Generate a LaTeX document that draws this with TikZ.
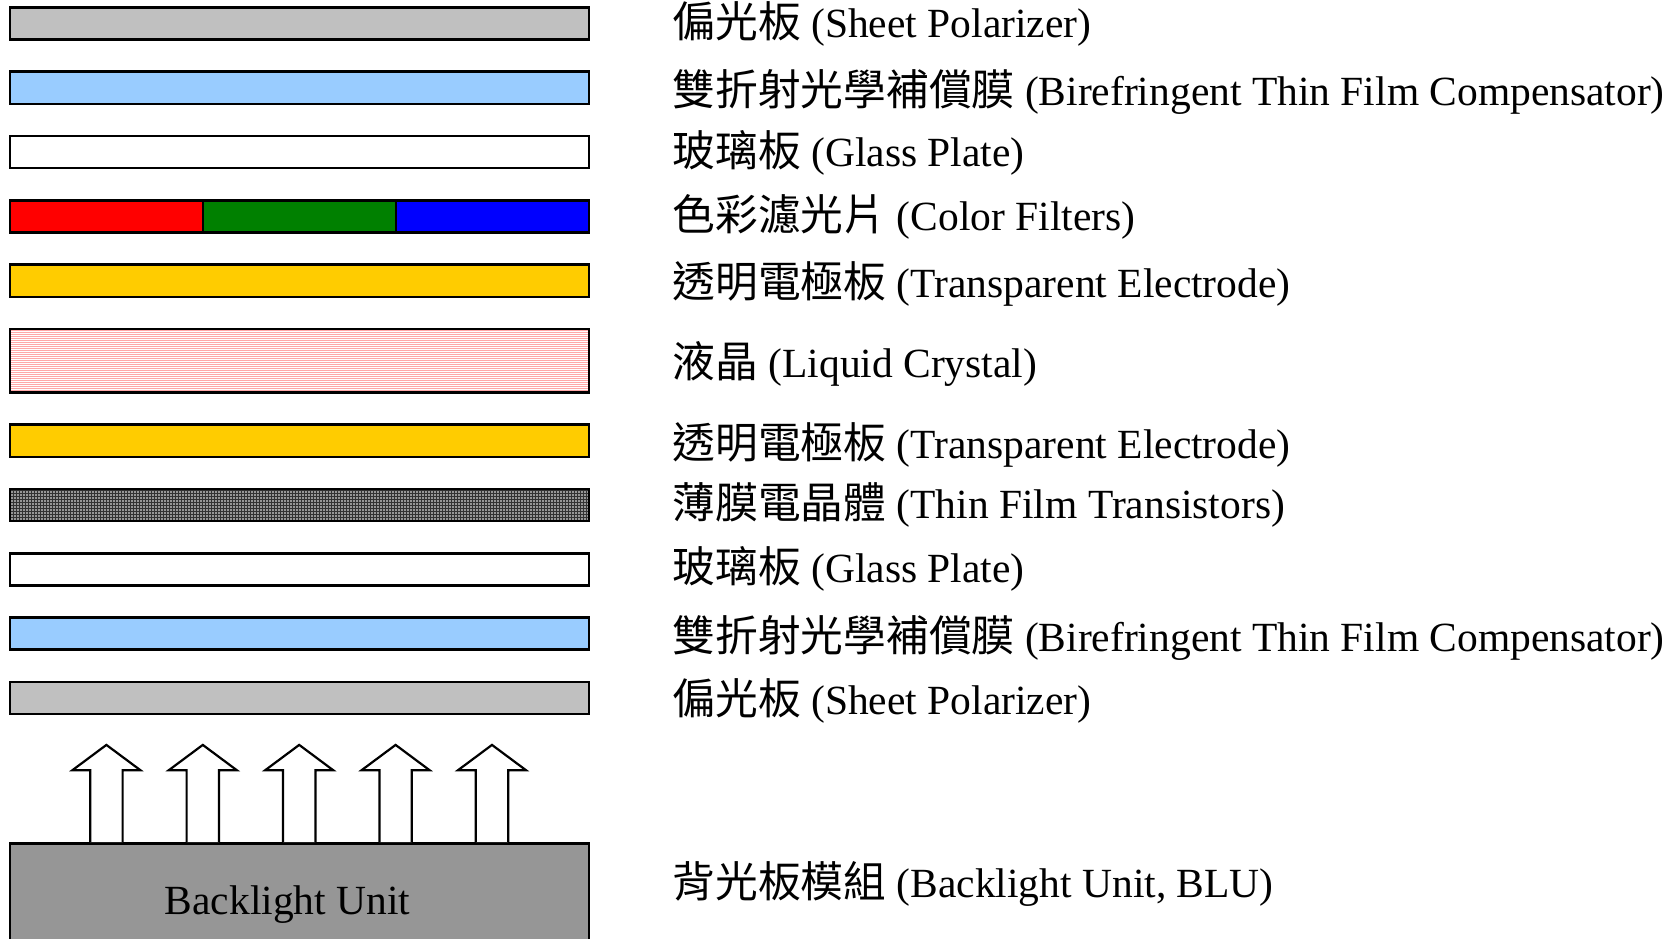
\documentclass[tikz,border=0pt]{standalone}
\usepackage{fontspec}
\setmainfont{Liberation Serif}
\newfontfamily\cjk[Scale=1.03]{Noto Sans CJK TC}
\usepackage{xcolor}
\usepackage{tikz}
\usetikzlibrary{positioning,patterns,patterns.meta}

\definecolor{polgray}{HTML}{C0C0C0}
\definecolor{filmblue}{HTML}{99CCFF}
\definecolor{itogold}{HTML}{FFCC00}
\definecolor{cfred}{HTML}{FF0000}
\definecolor{cfgreen}{HTML}{008000}
\definecolor{cfblue}{HTML}{0000FF}
\definecolor{lcpink}{HTML}{FFA8A8}
\definecolor{blugray}{HTML}{969696}

\begin{document}
\begin{tikzpicture}[
    x=1pt, y=1pt,
    node distance=32.2pt and 83.5pt,
    layer/.style={draw, rectangle, line width=2.5pt, outer sep=0pt, inner sep=0pt, minimum width=579pt, minimum height=32.1pt},
    cell/.style={layer, minimum width=193pt},
    lbl/.style={inner sep=0pt, font=\fontsize{41.5}{50}\selectfont, text height=28pt, text depth=0pt},
    beam/.style={draw, fill=white, line width=2.2pt, line join=miter},
]
    \clip (0,0) rectangle (1675,-939);

    % Panel layers, top to bottom
    \node [layer, fill=polgray] (pol1) at (299.5,-23.5) {};
    \node [layer, fill=filmblue, below=of pol1] (comp1) {};
    \node [layer, fill=white, below=of comp1] (glass1) {};
    \node [cell, fill=cfgreen, below=of glass1] (cfG) {};
    \node [cell, fill=cfred, left=0pt of cfG] (cfR) {};
    \node [cell, fill=cfblue, right=0pt of cfG] (cfB) {};
    \node [layer, fill=itogold, below=of cfG] (ito1) {};
    \node [layer, minimum height=63.5pt, preaction={fill=white}, pattern={Lines[angle=0, distance=2pt, line width=1pt]}, pattern color=lcpink, below=of ito1] (lc) {};
    \node [layer, fill=itogold, below=of lc] (ito2) {};
    \node [layer, preaction={fill=black!80}, pattern={Dots[distance=3pt, radius=0.9pt]}, pattern color=white, below=of ito2] (tft) {};
    \node [layer, fill=white, below=of tft] (glass2) {};
    \node [layer, fill=filmblue, below=of glass2] (comp2) {};
    \node [layer, fill=polgray, below=of comp2] (pol2) {};

    % Backlight
    \node [layer, fill=blugray, minimum height=130pt, below=129.5pt of pol2] (blu) {};
    \node [lbl, anchor=base] (bluTxt) at ([xshift=-12pt, yshift=-70.75pt]blu.north) {Backlight Unit};
    \foreach \i in {1,...,5}
        \draw [beam] ([xshift=\i*96.4pt-16.2pt, yshift=1.25pt]blu.north west) -- ++(0,72) -- ++(-17.8,0) -- ++(34,25.3) -- ++(34,-25.3) -- ++(-17.8,0) -- ++(0,-72);

    % Labels
    \node [lbl, right=of pol1] (pol1Lbl) {{\cjk 偏光板} (Sheet Polarizer)};
    \node [lbl, right=of comp1, yshift=-4pt] (comp1Lbl) {{\cjk 雙折射光學補償膜} (Birefringent Thin Film Compensator)};
    \node [lbl, right=of glass1] (glass1Lbl) {{\cjk 玻璃板} (Glass Plate)};
    \node [lbl, right=of cfB] (cfLbl) {{\cjk 色彩濾光片} (Color Filters)};
    \node [lbl, right=of ito1, yshift=-3pt] (ito1Lbl) {{\cjk 透明電極板} (Transparent Electrode)};
    \node [lbl, right=of lc, yshift=-3pt] (lcLbl) {{\cjk 液晶} (Liquid Crystal)};
    \node [lbl, right=of ito2, yshift=-4pt] (ito2Lbl) {{\cjk 透明電極板} (Transparent Electrode)};
    \node [lbl, right=of tft, yshift=1pt] (tftLbl) {{\cjk 薄膜電晶體} (Thin Film Transistors)};
    \node [lbl, right=of glass2, yshift=1pt] (glass2Lbl) {{\cjk 玻璃板} (Glass Plate)};
    \node [lbl, right=of comp2, yshift=-4pt] (comp2Lbl) {{\cjk 雙折射光學補償膜} (Birefringent Thin Film Compensator)};
    \node [lbl, right=of pol2, yshift=-3pt] (pol2Lbl) {{\cjk 偏光板} (Sheet Polarizer)};
    \node [lbl, anchor=west] (bluLbl) at ([xshift=83.5pt, yshift=-40pt]blu.north east) {{\cjk 背光板模組} (Backlight Unit, BLU)};
\end{tikzpicture}
\end{document}
